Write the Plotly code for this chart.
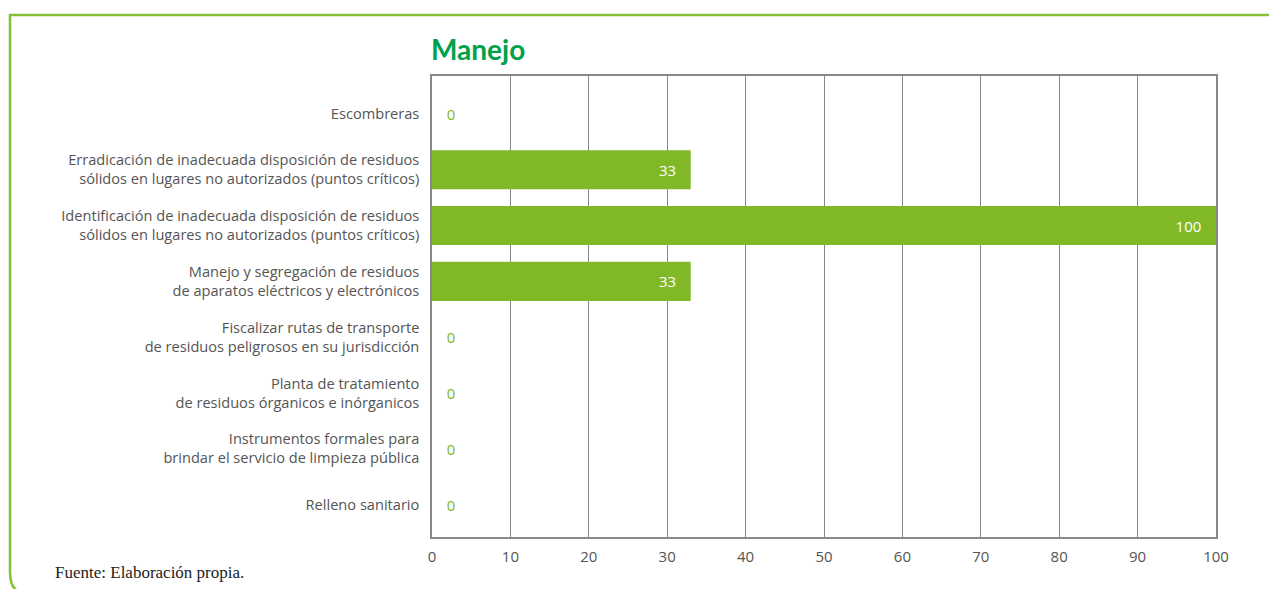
import plotly.graph_objects as go

categories = [
    "Escombreras",
    "Erradicación de inadecuada disposición de residuos<br>sólidos en lugares no autorizados (puntos críticos)",
    "Identificación de inadecuada disposición de residuos<br>sólidos en lugares no autorizados (puntos críticos)",
    "Manejo y segregación de residuos<br>de aparatos eléctricos y electrónicos",
    "Fiscalizar rutas de transporte<br>de residuos peligrosos en su jurisdicción",
    "Planta de tratamiento<br>de residuos órganicos e inórganicos",
    "Instrumentos formales para<br>brindar el servicio de limpieza pública",
    "Relleno sanitario",
]
values = [0, 33, 100, 33, 0, 0, 0, 0]
x_ticks = [0, 10, 20, 30, 40, 50, 60, 70, 80, 90, 100]

GREEN = "#80b828"
FRAME = "#85bf34"
TITLE_GREEN = "#00a14b"
GRID = "#888888"
TEXT = "#555555"

OFF = 8  # page body margin
W, H = 1277 - OFF, 589 - OFF
L, R, T, B = 432 - OFF, 1216 - OFF, 76 - OFF, 537 - OFF

def px(x):
    return (x - OFF - L) / (R - L)

def py(y):
    return (B - (y - OFF)) / (B - T)

NB = "\u00a0"
text_pos = ["inside" if v > 0 else "outside" for v in values]
text_col = ["white" if v > 0 else GREEN for v in values]
text_lbl = [str(v) + NB * 3 if v > 0 else NB * 3 + str(v) for v in values]

fig = go.Figure(go.Bar(
    x=values, y=categories, orientation="h",
    marker=dict(color=GREEN, line=dict(width=0)),
    text=text_lbl,
    textposition=text_pos,
    insidetextanchor="end",
    textfont=dict(color=text_col, size=15, family="Open Sans"),
    cliponaxis=False,
    width=0.70,
))

frame_path = (f"M {px(1290)},{py(15)} L {px(10)},{py(15)} L {px(10)},{py(572)} "
              f"Q {px(10)},{py(589)} {px(20)},{py(592)}")

fig.update_layout(
    width=W, height=H,
    margin=dict(l=L, r=W - R, t=T, b=H - B, pad=0),
    paper_bgcolor="white", plot_bgcolor="white",
    font=dict(family="Open Sans", color=TEXT, size=14),
    showlegend=False,
    title=dict(text="<b>Manejo</b>", x=(431 - OFF) / W, xref="container", xanchor="left",
               y=1 - (50 - OFF) / H, yanchor="middle",
               font=dict(family="Lato", size=28, color=TITLE_GREEN)),
    xaxis=dict(range=[0, 100], tickvals=x_ticks, showgrid=True, gridcolor=GRID,
               gridwidth=1, showline=True, linecolor=GRID, linewidth=1.5,
               mirror=True, ticks="", zeroline=False,
               tickfont=dict(size=15, color=TEXT), ticklabelstandoff=5,
               fixedrange=True),
    yaxis=dict(categoryorder="array", categoryarray=categories,
               range=[7.58, -0.68], showgrid=False, showline=True,
               linecolor=GRID, linewidth=1.5, mirror=True, ticks="",
               tickfont=dict(size=14.6, color=TEXT), ticklabelstandoff=8),
    shapes=[dict(type="path", xref="paper", yref="paper", path=frame_path,
                 line=dict(color=FRAME, width=2.5), layer="below")],
    annotations=[dict(text="Fuente: Elaboración propia.", xref="paper", yref="paper",
                      x=px(53), y=py(572), xanchor="left", yanchor="middle",
                      showarrow=False,
                      font=dict(family="Liberation Serif", size=17, color="#222222"))],
)

fig.write_html("out.html")
